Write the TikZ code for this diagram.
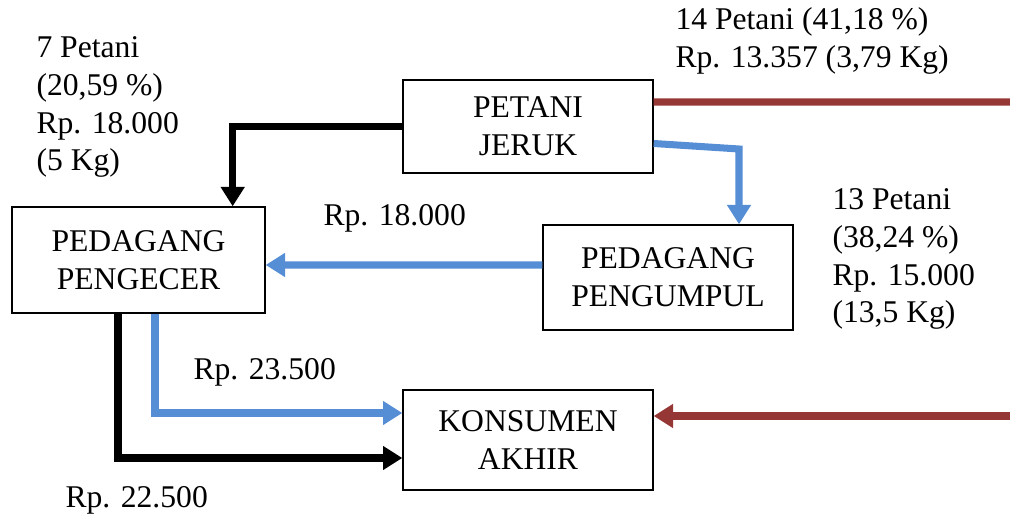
\documentclass[tikz,border=0pt]{standalone}
\usepackage{fontspec}
\setmainfont{Liberation Serif}
\usetikzlibrary{arrows.meta}

\definecolor{jalurbiru}{RGB}{85,142,213}
\definecolor{jalurmerah}{RGB}{149,55,53}

\begin{document}
\begin{tikzpicture}[
                        x=0.02cm,
                        y=-0.02cm,
                        >={Triangle[width=13pt,length=11pt]},
                        line width=4pt,
                        font=\fontsize{18}{21.6}\selectfont
                    ]
                    \tikzstyle{box}=[draw=black,line width=0.8pt,fill=white,align=center,minimum width=5cm,inner sep=0pt]
                    \tikzstyle{info}=[anchor=west,align=left,inner sep=0pt]

                    \useasboundingbox (0,0) rectangle (1010,516);

                    \node[box,minimum height=1.86cm] (petani)    at (528,126.5) {PETANI\\JERUK} ;
                    \node[box,minimum width=5.06cm,minimum height=2.12cm] (pengecer)  at (138.5,260) {PEDAGANG\\PENGECER} ;
                    \node[box,minimum height=2.1cm]  (pengumpul) at (668,277.5) {PEDAGANG\\PENGUMPUL} ;
                    \node[box,minimum height=2cm]    (konsumen)  at (528,440)   {KONSUMEN\\AKHIR} ;

                    \coordinate (redtop) at (1010,102) ;
                    \coordinate (redbot) at (1010,416) ;
                    \coordinate (belok)  at (739,149) ;

                    \node[info] (t7)  at (33,107)  {7 Petani\\(20,59 \%)\\Rp. 18.000\\(5 Kg)} ;
                    \node[info] (t14) at (672,41)  {14 Petani (41,18 \%)\\Rp. 13.357 (3,79 Kg)} ;
                    \node[info] (t13) at (829,259) {13 Petani\\(38,24 \%)\\Rp. 15.000\\(13,5 Kg)} ;
                    \node[info] (h1)  at (320,218) {Rp. 18.000} ;
                    \node[info] (h2)  at (190,372) {Rp. 23.500} ;
                    \node[info] (h3)  at (62,500)  {Rp. 22.500} ;

                    % saluran pemasaran
                    \draw[->] (petani.west) -| ([xshift=-0.66cm]pengecer.north east) ;
                    \draw[jalurmerah] ([yshift=0.49cm]petani.east) -- (redtop) ;
                    \draw[jalurbiru,->] ([yshift=-0.34cm]petani.east) -- (belok) -- (belok |- pengumpul.north) ;
                    \draw[jalurbiru,->] ([yshift=0.25cm]pengumpul.west) -- ([yshift=-0.1cm]pengecer.east) ;
                    \draw[jalurbiru,->] ([xshift=0.33cm]pengecer.south) |- ([yshift=0.54cm]konsumen.west) ;
                    \draw[->] ([xshift=-0.41cm]pengecer.south) |- ([yshift=-0.36cm]konsumen.west) ;
                    \draw[jalurmerah,->] (redbot) -- (redbot -| konsumen.east) ;
                \end{tikzpicture}
\end{document}
